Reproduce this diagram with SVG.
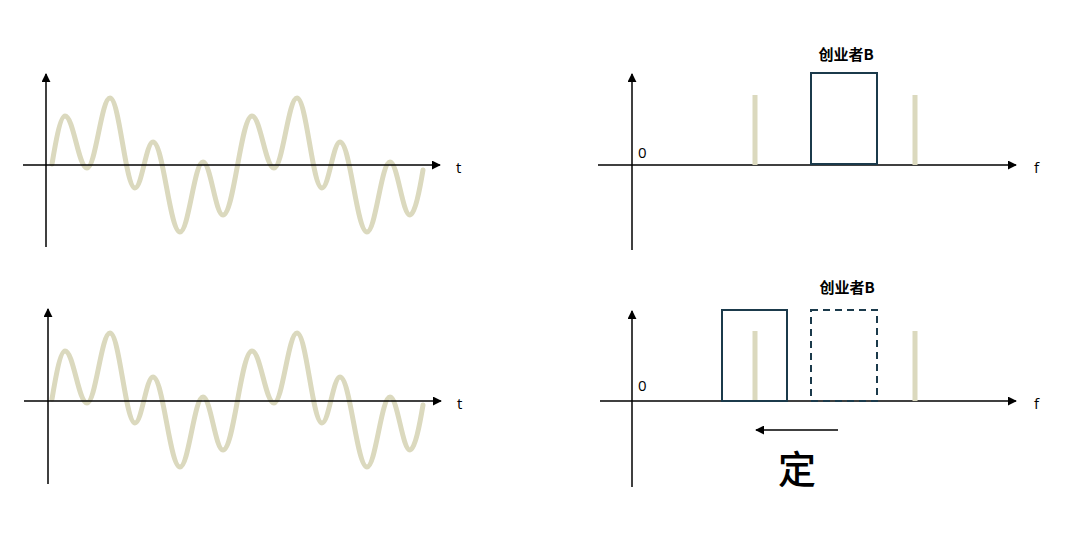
<svg xmlns="http://www.w3.org/2000/svg" width="1080" height="535" viewBox="0 0 1080 535">
  <style>
    .axis { stroke: #000; stroke-width: 1.5; fill: none; }
    .wave { stroke: #dbd9be; stroke-width: 5; fill: none; stroke-linecap: round; stroke-linejoin: round; }
    .bar { fill: #dbd9be; }
    .band { stroke: #1b3a4b; stroke-width: 2; fill: none; }
    .dash { stroke-dasharray: 7 5; }
    .lbl { font-family: "Open Sans", "Liberation Sans", sans-serif; font-size: 15px; fill: #000; }
    .cn { font-family: "Noto Sans CJK SC", "Liberation Sans", sans-serif; font-weight: bold; font-size: 15px; fill: #000; text-anchor: middle; }
    .big { font-family: "Noto Sans CJK SC", sans-serif; font-weight: 500; font-size: 38px; fill: #000; text-anchor: middle; }
  </style>
  <defs>
    <marker id="ah" viewBox="0 0 10 10" refX="9" refY="5" markerWidth="6" markerHeight="6" markerUnits="strokeWidth" orient="auto">
      <path d="M0,0 L10,5 L0,10 z" fill="#000"/>
    </marker>
    <path id="wavePath" d="M52,164 C55,146 60,116 65,116 C73.4,116 78.6,168 87,168 C95.7,168 101.3,98 110,98 C119.5,98 125.5,188 135,188 C141.8,188 146.2,142 153,142 C163.3,142 169.7,232 180,232 C188.7,232 194.3,162 203,162 C210.6,162 215.4,215 223,215 C234,215 241,116 252,116 C260.4,116 265.6,168 274,168 C282.7,168 288.3,98 297,98 C306.5,98 312.5,188 322,188 C328.8,188 333.2,142 340,142 C350.3,142 356.7,232 367,232 C375.7,232 381.3,162 390,162 C397.6,162 402.4,215 410,215 C415,215 420,188 423,170"/>
  </defs>

  <!-- top-left: time signal -->
  <g id="time-top">
    <use href="#wavePath" class="wave"/>
    <line class="axis" x1="46" y1="247" x2="46" y2="74" marker-end="url(#ah)"/>
    <line class="axis" x1="23" y1="165" x2="440" y2="165" marker-end="url(#ah)"/>
    <text class="lbl" x="456" y="173">t</text>
  </g>

  <!-- bottom-left: time signal -->
  <g id="time-bottom">
    <use href="#wavePath" class="wave" transform="translate(0,235)"/>
    <line class="axis" x1="48" y1="484" x2="48" y2="309" marker-end="url(#ah)"/>
    <line class="axis" x1="24" y1="401" x2="441" y2="401" marker-end="url(#ah)"/>
    <text class="lbl" x="457" y="409">t</text>
  </g>

  <!-- top-right: spectrum -->
  <g id="spec-top">
    <line class="axis" x1="632" y1="250" x2="632" y2="74" marker-end="url(#ah)"/>
    <line class="axis" x1="598" y1="165" x2="1016" y2="165" marker-end="url(#ah)"/>
    <text class="lbl" x="638" y="158">0</text>
    <text class="lbl" x="1034" y="173">f</text>
    <rect class="bar" x="752.5" y="95" width="5" height="70"/>
    <rect class="bar" x="912.5" y="95" width="5" height="70"/>
    <rect class="band" x="811" y="73" width="66" height="91"/>
    <text class="cn" x="846" y="60">创业者B</text>
  </g>

  <!-- bottom-right: shifted spectrum -->
  <g id="spec-bottom">
    <line class="axis" x1="632" y1="487" x2="632" y2="311" marker-end="url(#ah)"/>
    <line class="axis" x1="600" y1="401" x2="1016" y2="401" marker-end="url(#ah)"/>
    <text class="lbl" x="638" y="391">0</text>
    <text class="lbl" x="1034" y="409">f</text>
    <rect class="bar" x="752.5" y="331" width="5" height="70"/>
    <rect class="bar" x="912.5" y="331" width="5" height="70"/>
    <rect class="band" x="722" y="310" width="65" height="91"/>
    <rect class="band dash" x="811" y="310" width="66" height="91"/>
    <text class="cn" x="847" y="293">创业者B</text>
  </g>

  <g id="connectors">
    <line class="axis" x1="838" y1="430" x2="756" y2="430" marker-end="url(#ah)"/>
  </g>
  <g id="label-ding">
    <text class="big" x="797" y="483">定</text>
  </g>
</svg>
